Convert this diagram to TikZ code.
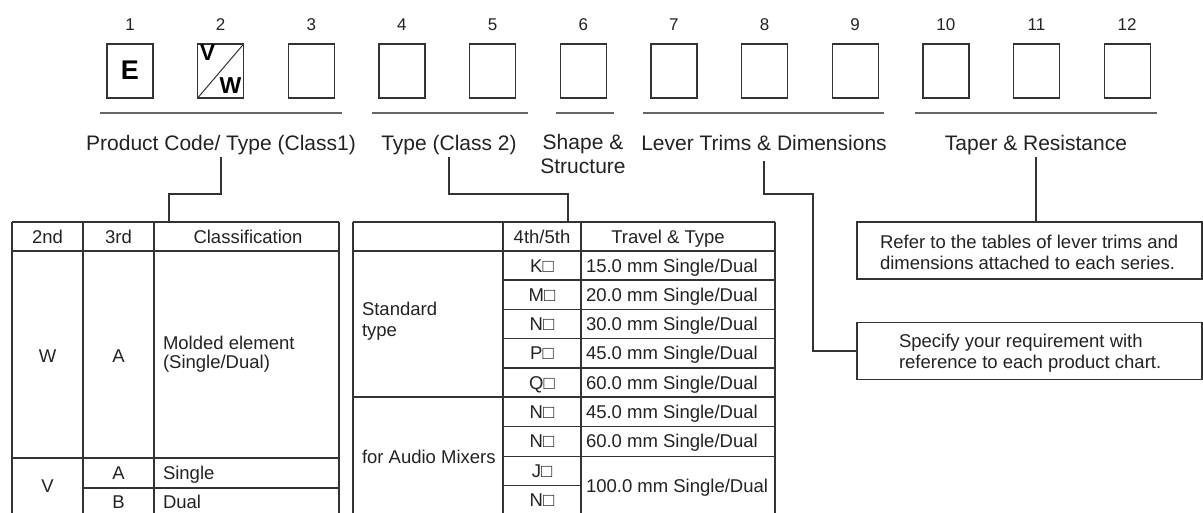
\documentclass[tikz,border=0pt]{standalone}
\usepackage{fontspec}
\setmainfont{Liberation Sans}
\definecolor{ln}{HTML}{333333}
\definecolor{ul}{HTML}{666666}
\definecolor{tx}{HTML}{222222}
\begin{document}
\begin{tikzpicture}[x=1pt,y=-1pt,
  every node/.style={inner sep=0pt, outer sep=0pt, text=tx},
  digit/.style={draw=ln, line width=1.3pt, minimum width=46pt, minimum height=54pt},
  num/.style={font=\fontsize{17}{20}\selectfont, anchor=base},
  cat/.style={font=\fontsize{21}{24}\selectfont, anchor=base, align=center},
  cell/.style={font=\fontsize{18.5}{21}\selectfont, anchor=base},
  cellw/.style={font=\fontsize{18.5}{21}\selectfont, anchor=base west, align=left},
  big/.style={font=\fontsize{27}{30}\selectfont\bfseries, anchor=base, text=black},
  mid/.style={font=\fontsize{23}{26}\selectfont\bfseries, anchor=base, text=black},
  uline/.style={draw=ul, line width=1.5pt},
  grid/.style={draw=ln, line width=1.3pt},
  conn/.style={draw=ln, line width=1.3pt},
  note/.style={draw=ln, line width=1.3pt, minimum width=345pt, minimum height=57pt}
]
\useasboundingbox (0,0) rectangle (1203,512);
\clip (0,0) rectangle (1203,512);

% digit boxes and numbers
\foreach \i in {1,...,12} {
  \node[digit] (b\i) at ({130+(\i-1)*90.65},71) {};
  \node[num] (n\i) at ({130+(\i-1)*90.65},30) {\i};
}
\draw[draw=ln, line width=1pt] (b2.south west) -- (b2.north east);
\node[big] (E) at (130,79.5) {E};
\node[mid] (V) at (207.5,60) {V};
\node[mid] (W) at (230.5,93.5) {W};

% underlines
\draw[uline] (100,113) -- (342,113);
\draw[uline] (372,113) -- (528,113);
\draw[uline] (556,113) -- (614,113);
\draw[uline] (643,113) -- (884,113);
\draw[uline] (915,113) -- (1157,113);

% category labels
\node[cat] (lblA) at (221,150) {Product Code/ Type (Class1)};
\node[cat] (lblB) at (449,150) {Type (Class 2)};
\node[cat] (lblC) at (583,173.5) {Shape \&\\Structure};
\node[cat] (lblD) at (764,150) {Lever Trims \& Dimensions};
\node[cat] (lblE) at (1036,150) {Taper \& Resistance};

% anchor coordinates
\coordinate (t1) at (169,222);
\coordinate (t2) at (568,222);

% note boxes
\node[note] (noteA) at (1029.5,250.5) {};
\node[note] (noteB) at (1029.5,351) {};
\node[cellw] (noteAt) at (880,269) {Refer to the tables of lever trims and\\dimensions attached to each series.};
\node[cellw] (noteBt) at (899,368) {Specify your requirement with\\reference to each product chart.};

% connectors
\draw[conn] ([yshift=-3pt]lblA.south) |- (169,194) -- (t1);
\draw[conn] ([yshift=-3pt]lblB.south) |- (568,194) -- (t2);
\draw[conn] ([yshift=-11pt]lblD.south) |- (813,194) |- (noteB.west);
\draw[conn] ([yshift=-3pt]lblE.south) -- (noteA.north -| lblE.south);

% ---- table 1 ----
\draw[grid] (12,222) -- (339,222);
\draw[grid] (12,251) -- (339,251);
\draw[grid] (12,458) -- (339,458);
\draw[grid] (83,488) -- (339,488);
\draw[grid] (12,222) -- (12,520);
\draw[grid] (83,222) -- (83,520);
\draw[grid] (154,222) -- (154,520);
\draw[grid] (339,222) -- (339,520);
\node[cell] (h1a) at (47.5,243.5) {2nd};
\node[cell] (h1b) at (118.5,243.5) {3rd};
\node[cell] (h1c) at (248,243.5) {Classification};
\node[cell] (w1) at (47.5,362) {W};
\node[cell] (a1) at (118.5,362) {A};
\node[cellw, font=\fontsize{18.5}{19}\selectfont] (m1) at (163,368) {Molded element\\(Single/Dual)};
\node[cell] (v1) at (47.5,492) {V};
\node[cell] (a2) at (118.5,479.5) {A};
\node[cell] (b2t) at (118.5,508) {B};
\node[cellw] (s1) at (163,479.5) {Single};
\node[cellw] (d1) at (163,508) {Dual};

% ---- table 2 ----
\draw[grid] (353,222) -- (775,222);
\draw[grid] (353,251) -- (775,251);
\foreach \yy in {280,309.3,338.7,368,426.3,456.5} { \draw[grid] (503,\yy) -- (775,\yy); }
\draw[grid] (353,397) -- (775,397);
\draw[grid] (503,485.7) -- (581,485.7);
\draw[grid] (353,222) -- (353,520);
\draw[grid] (503,222) -- (503,520);
\draw[grid] (581,222) -- (581,520);
\draw[grid] (775,222) -- (775,520);
\node[cell] (h2a) at (542,243.5) {4th/5th};
\node[cell] (h2b) at (668,243.5) {Travel \& Type};
\node[cellw] (st) at (362,336) {Standard\\type};
\node[cellw] (am) at (362,463) {for Audio Mixers};
\node[cell] (c1) at (542,272) {K□};
\node[cellw] (d21) at (586,272) {15.0 mm Single/Dual};
\node[cell] (c2) at (542,301.2) {M□};
\node[cellw] (d22) at (586,301.2) {20.0 mm Single/Dual};
\node[cell] (c3) at (542,330.5) {N□};
\node[cellw] (d23) at (586,330.5) {30.0 mm Single/Dual};
\node[cell] (c4) at (542,359.8) {P□};
\node[cellw] (d24) at (586,359.8) {45.0 mm Single/Dual};
\node[cell] (c5) at (542,389) {Q□};
\node[cellw] (d25) at (586,389) {60.0 mm Single/Dual};
\node[cell] (c6) at (542,418.2) {N□};
\node[cellw] (d26) at (586,418.2) {45.0 mm Single/Dual};
\node[cell] (c7) at (542,447.9) {N□};
\node[cellw] (d27) at (586,447.9) {60.0 mm Single/Dual};
\node[cell] (c8) at (542,477.6) {J□};
\node[cell] (c9) at (542,506.8) {N□};
\node[cellw] (d28) at (586,492) {100.0 mm Single/Dual};
\end{tikzpicture}
\end{document}
